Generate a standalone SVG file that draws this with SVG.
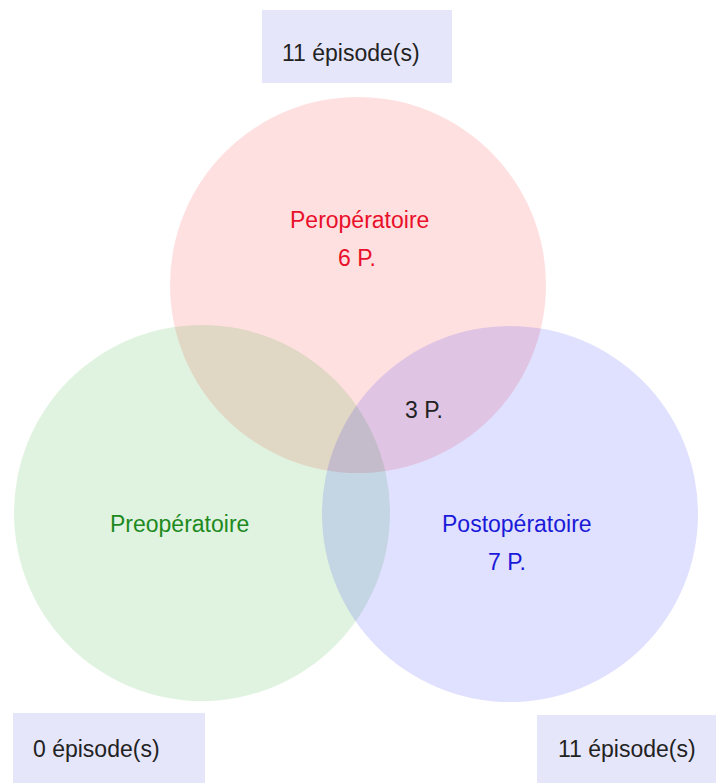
<svg xmlns="http://www.w3.org/2000/svg" width="716" height="783" viewBox="0 0 716 783">
<style>
text{font-family:"Liberation Sans",Arial,sans-serif;font-size:23px}
.box{fill:#e6e6fa}
.cnt{fill:#222}
.c{fill-opacity:0.12}
</style>
<rect width="716" height="783" fill="#ffffff"/>
<g id="circle-pero"><circle class="c" cx="358" cy="285" r="188" fill="#ff0000"/></g>
<g id="circle-preo"><circle class="c" cx="202" cy="513" r="188" fill="#00a000"/></g>
<g id="circle-post"><circle class="c" cx="510" cy="514" r="188" fill="#0000ff"/></g>
<g id="label-pero">
<text x="290" y="228" fill="#e8102a">Peropératoire</text>
<text x="338" y="266" fill="#e8102a">6 P.</text>
</g>
<g id="label-inter"><text x="405" y="418" fill="#222">3 P.</text></g>
<g id="label-preo"><text x="110" y="532" fill="#1e8a1e">Preopératoire</text></g>
<g id="label-post">
<text x="442" y="532" fill="#1a1ad8">Postopératoire</text>
<text x="488" y="570" fill="#1a1ad8">7 P.</text>
</g>
<g id="box-top"><rect class="box" x="262" y="10" width="190" height="73"/><text class="cnt" x="282" y="61">11 épisode(s)</text></g>
<g id="box-left"><rect class="box" x="13" y="713" width="192" height="70"/><text class="cnt" x="33" y="757">0 épisode(s)</text></g>
<g id="box-right"><rect class="box" x="537" y="715" width="179" height="68"/><text class="cnt" x="558" y="757">11 épisode(s)</text></g>
<g id="connectors"></g>
</svg>
